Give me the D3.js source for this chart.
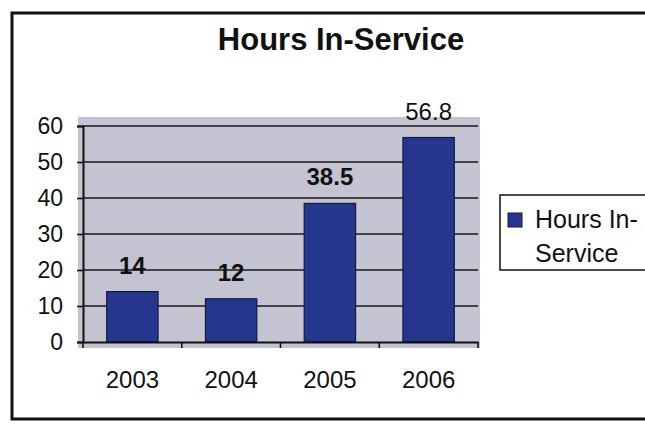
<!DOCTYPE html>
<html><head><meta charset="utf-8">
<script src="https://cdn.jsdelivr.net/npm/d3@7"></script>
<style>body{margin:0;background:#fff}svg{display:block;font-family:"Liberation Sans",Arial,sans-serif}</style>
</head><body>
<script>
const categories = ["2003","2004","2005","2006"];
const values = [14, 12, 38.5, 56.8];
const labelBold = [true, true, true, false];
const yTicks = [0,10,20,30,40,50,60];
const title = "Hours In-Service";
const legendLines = ["Hours In-", "Service"];

const W=645,H=425;
const FF="Liberation Sans, Arial, sans-serif";
const svg=d3.select("body").append("svg").attr("width",W).attr("height",H);
// outer frame
svg.append("rect").attr("x",12).attr("y",13).attr("width",W+10).attr("height",406)
  .attr("fill","#fff").attr("stroke","#111").attr("stroke-width",3);

const m={l:83,r:478,t:126,b:342};
const x=d3.scaleBand().domain(categories).range([m.l,m.r]).paddingInner(0.48).paddingOuter(0.24);
const y=d3.scaleLinear().domain([0,60]).range([m.b,m.t]);

// plot area background
svg.append("rect").attr("x",m.l-5).attr("y",m.t-9).attr("width",m.r-m.l+7).attr("height",m.b-m.t+15)
  .attr("fill","#c3c3d2");

// gridlines
svg.append("g").selectAll("line").data(yTicks.filter(d=>d>0)).join("line")
  .attr("x1",m.l).attr("x2",m.r).attr("y1",d=>y(d)).attr("y2",d=>y(d))
  .attr("stroke","#1a1a1a").attr("stroke-width",1.6);

// bars
svg.append("g").selectAll("rect").data(values).join("rect")
  .attr("x",(d,i)=>x(categories[i])).attr("width",x.bandwidth())
  .attr("y",d=>y(d)).attr("height",d=>y(0)-y(d))
  .attr("fill","#26368f").attr("stroke","#14183f").attr("stroke-width",1.2);

// y axis
const ya=svg.append("g").attr("transform",`translate(${m.l},0)`)
  .call(d3.axisLeft(y).tickValues(yTicks).tickSize(6).tickPadding(14));
ya.select(".domain").attr("stroke","#111").attr("stroke-width",2);
ya.selectAll(".tick line").attr("stroke","#111").attr("stroke-width",1.6);
ya.selectAll("text").attr("font-size",23).attr("fill","#111").attr("font-family",FF);

// x axis
const xa=svg.append("g").attr("transform",`translate(0,${m.b})`)
  .call(d3.axisBottom(x).tickSize(0).tickPadding(29));
xa.select(".domain").attr("stroke","#111").attr("stroke-width",2);
xa.selectAll("text").attr("font-size",24).attr("fill","#111").attr("font-family",FF);
// category boundary ticks
const bounds=categories.map(c=>x(c)-x.step()*x.paddingInner()/2).concat([m.r]);
svg.append("g").selectAll("line").data(bounds).join("line")
  .attr("x1",d=>d).attr("x2",d=>d).attr("y1",m.b).attr("y2",m.b+6)
  .attr("stroke","#111").attr("stroke-width",1.6);

// data labels
svg.append("g").selectAll("text").data(values).join("text")
  .attr("x",(d,i)=>x(categories[i])+x.bandwidth()/2).attr("y",d=>y(d)-18)
  .attr("text-anchor","middle").attr("font-size",24).attr("fill","#111")
  .attr("font-weight",(d,i)=>labelBold[i]?"bold":"normal")
  .text(d=>d);

// title
svg.append("text").attr("x",341).attr("y",50).attr("text-anchor","middle")
  .attr("font-size",31).attr("font-weight","bold").attr("fill","#111").text(title);

// legend
const lg=svg.append("g");
lg.append("rect").attr("x",500).attr("y",195).attr("width",150).attr("height",75)
  .attr("fill","#fff").attr("stroke","#111").attr("stroke-width",1.5);
lg.append("rect").attr("x",508).attr("y",213).attr("width",14).attr("height",14)
  .attr("fill","#26368f").attr("stroke","#14183f");
lg.selectAll("text.l").data(legendLines).join("text").attr("class","l")
  .attr("x",535).attr("y",(d,i)=>228+i*34)
  .attr("font-size",25).attr("fill","#111").text(d=>d);
</script>
</body></html>
